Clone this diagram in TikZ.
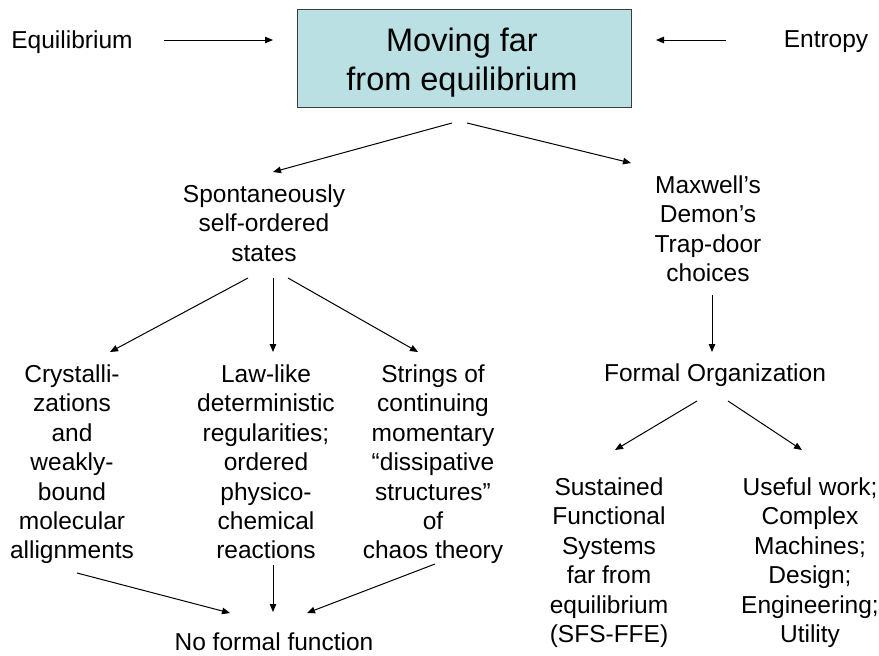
\documentclass[tikz,border=0pt]{standalone}
\usepackage{fontspec}
\setmainfont{Liberation Sans}
\usetikzlibrary{arrows.meta}
\definecolor{boxfill}{RGB}{187,224,227}
\definecolor{boxline}{RGB}{60,60,60}
\tikzset{
  lbl/.style={inner sep=0pt, anchor=north, align=center, font=\fontsize{24.5}{29.4}\selectfont},
  ttl/.style={inner sep=0pt, anchor=north, align=center, font=\fontsize{32.5}{39}\selectfont},
  arr/.style={-{Triangle[length=8pt,width=6.5pt]}, line width=1pt, black},
}
\begin{document}
\begin{tikzpicture}[x=1pt,y=-1pt]
\path[use as bounding box, fill=white] (0,0) rectangle (879,656);
% top box
\node[draw=boxline, fill=boxfill, line width=1pt, minimum width=334pt, minimum height=98pt, inner sep=0pt] (box) at (464,58) {};
\node[ttl] (title) at (462,27.5) {Moving far\\from equilibrium};
\node[lbl] (equil) at (72,30.5) {Equilibrium};
\node[lbl] (entropy) at (826,30.5) {Entropy};
\node[lbl] (spont) at (264,184.5) {Spontaneously\\self-ordered\\states};
\node[lbl] (maxwell) at (708,175.5) {Maxwell’s\\Demon’s\\Trap-door\\choices};
\node[lbl] (crys) at (72,364.5) {Crystalli-\\zations\\and\\weakly-\\bound\\molecular\\allignments};
\node[lbl] (law) at (266,364.5) {Law-like\\deterministic\\regularities;\\ordered\\physico-\\chemical\\reactions};
\node[lbl] (strings) at (433,364.5) {Strings of\\continuing\\momentary\\“dissipative\\structures”\\of\\chaos theory};
\node[lbl] (formal) at (715,363.5) {Formal Organization};
\node[lbl] (sust) at (609,477.5) {Sustained\\Functional\\Systems\\far from\\equilibrium\\(SFS-FFE)};
\node[lbl] (useful) at (810,477.5) {Useful work;\\Complex\\Machines;\\Design;\\Engineering;\\Utility};
\node[lbl] (nff) at (274,632.5) {No formal function};
% connector end points
\coordinate (equil-e) at (164,40);
\coordinate (box-w) at (273,40);
\coordinate (entropy-w) at (726,40);
\coordinate (box-e) at (656,40);
\coordinate (box-sl) at (452,123);
\coordinate (spont-n) at (273,172);
\coordinate (box-sr) at (467,123);
\coordinate (maxwell-n) at (631,163);
\coordinate (spont-sl) at (248,278);
\coordinate (spont-s) at (273,278);
\coordinate (spont-sr) at (288,278);
\coordinate (crys-n) at (110,352);
\coordinate (law-n) at (273,352);
\coordinate (strings-n) at (418,352);
\coordinate (crys-s) at (77,573);
\coordinate (law-s) at (273,565);
\coordinate (strings-s) at (435,564);
\coordinate (nff-nl) at (230,613);
\coordinate (nff-n) at (273,612);
\coordinate (nff-nr) at (307,613);
\coordinate (maxwell-s) at (712,295);
\coordinate (formal-n) at (712,352);
\coordinate (formal-sl) at (697,401);
\coordinate (formal-sr) at (728,401);
\coordinate (sust-n) at (615,450);
\coordinate (useful-n) at (802,450);
% connectors
\draw[arr] (equil-e) -- (box-w);
\draw[arr] (entropy-w) -- (box-e);
\draw[arr] (box-sl) -- (spont-n);
\draw[arr] (box-sr) -- (maxwell-n);
\draw[arr] (spont-sl) -- (crys-n);
\draw[arr] (spont-s) -- (law-n);
\draw[arr] (spont-sr) -- (strings-n);
\draw[arr] (crys-s) -- (nff-nl);
\draw[arr] (law-s) -- (nff-n);
\draw[arr] (strings-s) -- (nff-nr);
\draw[arr] (maxwell-s) -- (formal-n);
\draw[arr] (formal-sl) -- (sust-n);
\draw[arr] (formal-sr) -- (useful-n);
\end{tikzpicture}
\end{document}
